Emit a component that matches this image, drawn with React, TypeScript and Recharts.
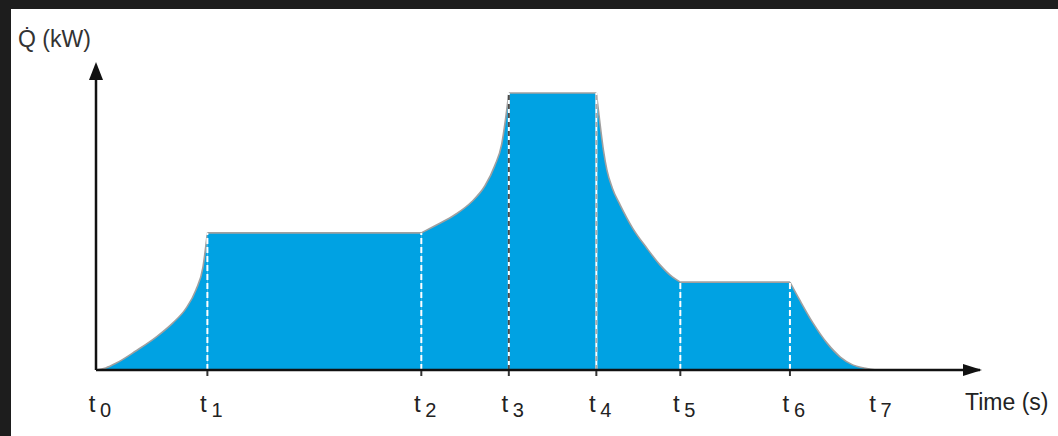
import React from 'react';
import { ComposedChart, Area, XAxis, YAxis, ReferenceLine, ReferenceDot, Label } from 'recharts';

// Breakpoints t0..t7 of the load profile (time, heat rate)
const breakTimes = [0, 12.6, 36.8, 46.7, 56.6, 66.1, 78.5, 88.3];
const breakLoads = [0, 45.4, 45.4, 91.7, 91.7, 29.1, 29.1, 0];

// Profile segments as [time, kW] pairs
const rampUp = [
  [0, 0], [1.1, 0.7], [2.3, 2.3], [4.5, 6.3], [6.8, 10.9], [8.7, 15.6],
  [10.2, 20.5], [11.3, 26.5], [12.1, 34.1], [12.6, 45.4],
];
const firstHold = [[12.6, 45.4], [36.8, 45.4]];
const secondRise = [
  [36.8, 45.4], [38.3, 47.7], [40.6, 51.4], [42.5, 55.7], [44.0, 61.0],
  [45.1, 67.6], [45.9, 74.9], [46.3, 82.5], [46.7, 91.7],
];
const peakHold = [[46.7, 91.7], [56.6, 91.7]];
const fallOff = [
  [56.6, 91.7], [56.9, 84.4], [57.4, 72.8], [57.8, 66.2], [58.4, 60.3],
  [59.3, 54.6], [60.7, 47.0], [62.3, 40.4], [63.8, 34.8], [65.2, 30.8], [66.1, 29.1],
];
const secondHold = [[66.1, 29.1], [78.5, 29.1]];
const rampDown = [
  [78.5, 29.1], [79.6, 23.2], [81.1, 15.6], [82.7, 8.9],
  [84.2, 4.3], [85.6, 1.7], [87.2, 0.5], [88.3, 0],
];

const segments = [
  { key: 'rampUp', points: rampUp, curve: 'monotone' },
  { key: 'firstHold', points: firstHold, curve: 'linear' },
  { key: 'secondRise', points: secondRise, curve: 'monotone' },
  { key: 'peakHold', points: peakHold, curve: 'linear' },
  { key: 'fallOff', points: fallOff, curve: 'monotone' },
  { key: 'secondHold', points: secondHold, curve: 'linear' },
  { key: 'rampDown', points: rampDown, curve: 'monotone' },
];

// one row per point, only the owning segment's key is set
const rows: Record<string, number>[] = [];
segments.forEach(seg => {
  seg.points.forEach(([t, q]) => rows.push({ t, [seg.key]: q }));
});

const FONT = '"Liberation Sans", Arial, Helvetica, sans-serif';
const FILL = '#00a2e3';
const EDGE = '#a0a0a0';

const TimeTick = (props: any) => {
  const { x, payload } = props;
  const i = breakTimes.indexOf(payload.value);
  return (
    <g fontFamily={FONT} fill="#222">
      {i > 0 && i < 7 && <line x1={x} x2={x} y1={362} y2={367} stroke="#333" strokeWidth={2} />}
      <text x={x - 4} y={403} textAnchor="middle" fontSize={24}>t</text>
      <text x={x + 4} y={408} fontSize={20}>{i}</text>
    </g>
  );
};

const ArrowRight = (p: any) => (
  <path d={`M${p.cx + 2},${p.cy} L${p.cx - 17},${p.cy - 6} L${p.cx - 17},${p.cy + 6} Z`} fill="#111" />
);
const ArrowUp = (p: any) => (
  <path d={`M${p.cx},${p.cy - 6} L${p.cx - 7},${p.cy + 12} L${p.cx + 7},${p.cy + 12} Z`} fill="#111" />
);

export default function App() {
  return (
    <div style={{ position: 'fixed', inset: 0, background: '#1d1d1d' }}>
      <div style={{ position: 'absolute', left: 11, top: 9, width: 1047, height: 427, background: '#fff' }}>
        <ComposedChart
          width={1047}
          height={427}
          data={rows}
          margin={{ top: 59, right: 78, bottom: 16, left: 75 }}
        >
          <XAxis
            type="number"
            dataKey="t"
            domain={[0, 100]}
            ticks={breakTimes}
            interval={0}
            height={50}
            tickLine={false}
            tick={<TimeTick />}
            axisLine={{ stroke: '#111', strokeWidth: 2.5 }}
          >
            <Label
              content={() => (
                <text x={954} y={401} fontSize={23} fontFamily={FONT} fill="#222">Time (s)</text>
              )}
            />
          </XAxis>
          <YAxis
            type="number"
            domain={[0, 100]}
            width={10}
            tick={false}
            tickLine={false}
            axisLine={{ stroke: '#111', strokeWidth: 2.5 }}
          >
            <Label
              content={() => (
                <text x={7} y={38} fontSize={23} fontFamily={FONT} fill="#333">Q̇ (kW)</text>
              )}
            />
          </YAxis>
          {segments.map(seg => (
            <Area
              key={seg.key}
              dataKey={seg.key}
              type={seg.curve as any}
              fill={FILL}
              fillOpacity={1}
              stroke={EDGE}
              strokeWidth={1.6}
              dot={false}
              activeDot={false}
              connectNulls={false}
              isAnimationActive={false}
            />
          ))}
          {breakTimes.slice(1, 7).map((t, k) => {
            const load = breakLoads[k + 1];
            const seg = [{ x: t, y: 0 }, { x: t, y: load }];
            if (k === 2) {
              return [
                <ReferenceLine key={`w${k}`} segment={seg} stroke="#fff" strokeWidth={2} />,
                <ReferenceLine key={`d${k}`} segment={seg} stroke="#4a4a4a" strokeWidth={2} strokeDasharray="5 4" />,
              ];
            }
            if (k === 3) {
              return [
                <ReferenceLine key={`w${k}`} segment={seg} stroke="#fff" strokeWidth={2} />,
                <ReferenceLine key={`d${k}`} segment={seg} stroke="#ababab" strokeWidth={2} strokeDasharray="5 4" />,
              ];
            }
            return (
              <ReferenceLine key={`d${k}`} segment={seg} stroke="#fff" strokeWidth={2} strokeDasharray="6 3" />
            );
          })}
          <ReferenceDot x={100} y={0} r={0} ifOverflow="visible" shape={<ArrowRight />} />
          <ReferenceDot x={0} y={100} r={0} ifOverflow="visible" shape={<ArrowUp />} />
        </ComposedChart>
      </div>
    </div>
  );
}
